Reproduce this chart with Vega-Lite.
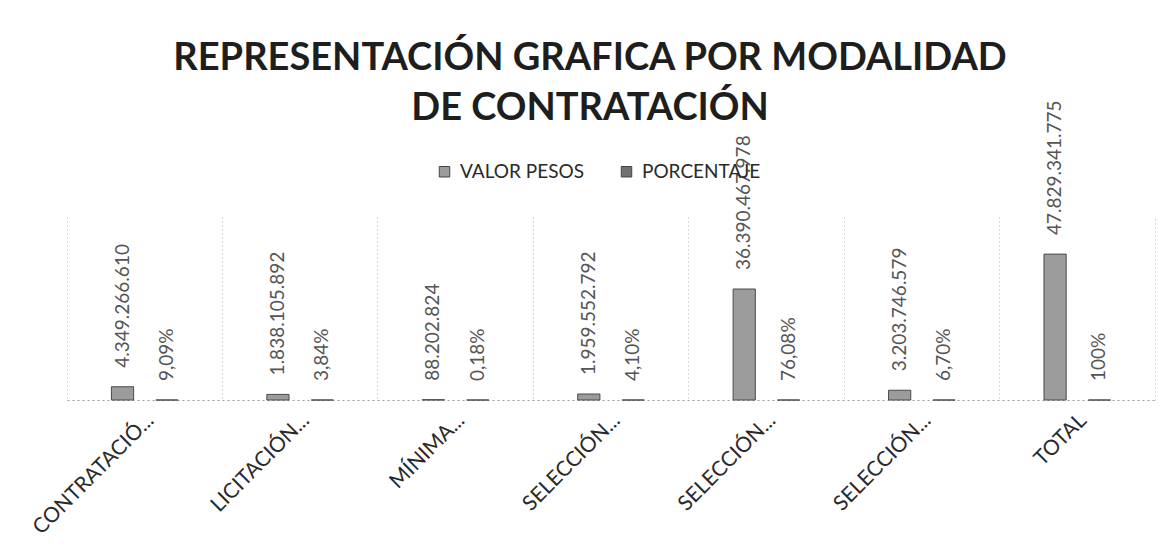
{
  "$schema": "https://vega.github.io/schema/vega-lite/v6.json",
  "width": 1088,
  "height": 183,
  "autosize": {"type": "none"},
  "padding": {"left": 67, "top": 217, "right": 21, "bottom": 158},
  "background": "white",
  "title": {
    "text": ["REPRESENTACIÓN GRAFICA POR MODALIDAD", "DE CONTRATACIÓN"],
    "anchor": "middle",
    "frame": "group",
    "dx": -21,
    "offset": -28,
    "font": "Lato",
    "fontSize": 38,
    "fontWeight": "bold",
    "color": "#1e1e1e",
    "lineHeight": 50
  },
  "data": {
    "values": [
      {"modalidad": "CONTRATACIÓN DIRECTA", "serie": "VALOR PESOS", "valor": 4349266610, "etiqueta": "4.349.266.610"},
      {"modalidad": "CONTRATACIÓN DIRECTA", "serie": "PORCENTAJE", "valor": 0.0909, "etiqueta": "9,09%"},
      {"modalidad": "LICITACIÓN PÚBLICA", "serie": "VALOR PESOS", "valor": 1838105892, "etiqueta": "1.838.105.892"},
      {"modalidad": "LICITACIÓN PÚBLICA", "serie": "PORCENTAJE", "valor": 0.0384, "etiqueta": "3,84%"},
      {"modalidad": "MÍNIMA CUANTÍA", "serie": "VALOR PESOS", "valor": 88202824, "etiqueta": "88.202.824"},
      {"modalidad": "MÍNIMA CUANTÍA", "serie": "PORCENTAJE", "valor": 0.0018, "etiqueta": "0,18%"},
      {"modalidad": "SELECCIÓN ABREVIADA DE MENOR CUANTÍA", "serie": "VALOR PESOS", "valor": 1959552792, "etiqueta": "1.959.552.792"},
      {"modalidad": "SELECCIÓN ABREVIADA DE MENOR CUANTÍA", "serie": "PORCENTAJE", "valor": 0.041, "etiqueta": "4,10%"},
      {"modalidad": "SELECCIÓN ABREVIADA SUBASTA INVERSA", "serie": "VALOR PESOS", "valor": 36390467978, "etiqueta": "36.390.467.978"},
      {"modalidad": "SELECCIÓN ABREVIADA SUBASTA INVERSA", "serie": "PORCENTAJE", "valor": 0.7608, "etiqueta": "76,08%"},
      {"modalidad": "SELECCIÓN ABREVIADA ACUERDO MARCO", "serie": "VALOR PESOS", "valor": 3203746579, "etiqueta": "3.203.746.579"},
      {"modalidad": "SELECCIÓN ABREVIADA ACUERDO MARCO", "serie": "PORCENTAJE", "valor": 0.067, "etiqueta": "6,70%"},
      {"modalidad": "TOTAL", "serie": "VALOR PESOS", "valor": 47829341775, "etiqueta": "47.829.341.775"},
      {"modalidad": "TOTAL", "serie": "PORCENTAJE", "valor": 1, "etiqueta": "100%"}
    ]
  },
  "encoding": {
    "x": {
      "field": "modalidad",
      "type": "nominal",
      "sort": null,
      "scale": {"paddingInner": 0, "paddingOuter": 0},
      "axis": {
        "title": null,
        "labelAngle": -45,
        "labelAlign": "right",
        "labelBaseline": "middle",
        "labelFont": "Lato",
        "labelFontSize": 21,
        "labelColor": "#2a2a2a",
        "labelPadding": 17,
        "labelOffset": 6,
        "labelLimit": 300,
        "labelExpr": "datum.value == 'TOTAL' ? 'TOTAL' : slice(split(datum.value, ' ')[0], 0, 11) + '...'",
        "ticks": false,
        "domainColor": "#9a9a9a",
        "domainDash": [2, 3],
        "grid": true,
        "bandPosition": 0,
        "gridColor": "#b5b5b5",
        "gridDash": [1, 3],
        "gridWidth": 1
      }
    },
    "xOffset": {
      "field": "serie",
      "type": "nominal",
      "sort": ["VALOR PESOS", "PORCENTAJE"],
      "scale": {"paddingInner": 0.5, "paddingOuter": 1.1875}
    },
    "y": {
      "field": "valor",
      "type": "quantitative",
      "scale": {"domain": [0, 60000000000]},
      "axis": {
        "orient": "right",
        "title": null,
        "labels": false,
        "ticks": false,
        "grid": false,
        "domainColor": "#b5b5b5",
        "domainDash": [1, 3]
      }
    }
  },
  "layer": [
    {
      "mark": {"type": "bar", "stroke": "#4a4a4a", "strokeWidth": 1},
      "encoding": {
        "color": {
          "field": "serie",
          "type": "nominal",
          "sort": ["VALOR PESOS", "PORCENTAJE"],
          "scale": {"domain": ["VALOR PESOS", "PORCENTAJE"], "range": ["#9c9c9c", "#707070"]},
          "legend": {
            "title": null,
            "orient": "none",
            "direction": "horizontal",
            "legendX": 368,
            "legendY": -55,
            "symbolType": "square",
            "symbolSize": 110,
            "symbolStrokeColor": "#444",
            "symbolStrokeWidth": 1,
            "labelFont": "Lato",
            "labelFontSize": 19,
            "labelColor": "#2a2a2a",
            "labelOffset": 6,
            "columnPadding": 32,
            "padding": 0
          }
        }
      }
    },
    {
      "mark": {
        "type": "text",
        "angle": 270,
        "align": "left",
        "baseline": "middle",
        "dx": 19,
        "font": "Lato",
        "fontSize": 19,
        "color": "#555555"
      },
      "encoding": {
        "text": {"field": "etiqueta", "type": "nominal"}
      }
    }
  ],
  "config": {
    "view": {"stroke": null}
  }
}
